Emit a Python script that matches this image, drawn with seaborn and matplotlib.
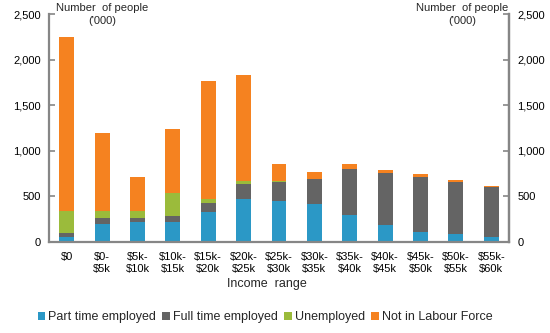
import numpy as np
import pandas as pd
import matplotlib
matplotlib.use("Agg")
import matplotlib.pyplot as plt
import seaborn as sns
from matplotlib.ticker import FuncFormatter, MultipleLocator, FixedLocator
from matplotlib.patches import Patch

categories = ["$0", "$0-\n$5k", "$5k-\n$10k", "$10k-\n$15k", "$15k-\n$20k", "$20k-\n$25k",
              "$25k-\n$30k", "$30k-\n$35k", "$35k-\n$40k", "$40k-\n$45k", "$45k-\n$50k",
              "$50k-\n$55k", "$55k-\n$60k"]
part_time = [55, 198, 220, 220, 329, 468, 450, 417, 296, 183, 110, 88, 55]
full_time = [44, 66, 44, 65, 99, 169, 209, 271, 502, 571, 600, 571, 549]
unemployed = [238, 73, 73, 253, 44, 29, 5, 0, 0, 0, 0, 0, 0]
not_in_lf = [1910, 856, 373, 703, 1296, 1164, 192, 77, 58, 37, 37, 18, 11]

series_names = ["Part time employed", "Full time employed", "Unemployed", "Not in Labour Force"]
colors = ["#2B98C6", "#646464", "#9BBB3B", "#F58220"]

sns.set_theme(style="white")
plt.rcParams["font.family"] = ["Liberation Sans", "DejaVu Sans"]

df = pd.DataFrame({"cat": categories,
                   series_names[0]: part_time,
                   series_names[1]: full_time,
                   series_names[2]: unemployed,
                   series_names[3]: not_in_lf})
cum = df[series_names].cumsum(axis=1)

fig = plt.figure(figsize=(5.5, 3.33), dpi=100)
ax = fig.add_axes([49 / 550, 91 / 333, 460 / 550, 228 / 333])

# stacked bars: draw cumulative totals from the top segment down
for name, col in reversed(list(zip(series_names, colors))):
    sns.barplot(x=df["cat"], y=cum[name], color=col, width=0.42,
                saturation=1, ax=ax, linewidth=0)

ax.set_xlim(-0.5, len(categories) - 0.5)
ax.set_ylim(0, 2500)
ax.set_xlabel("")
ax.set_ylabel("")

spine_col = "#868686"
ax.spines["top"].set_visible(False)
for s in ["left", "right", "bottom"]:
    ax.spines[s].set_color(spine_col)
    ax.spines[s].set_linewidth(1.6)

fmt = FuncFormatter(lambda v, p: f"{int(v):,}")
ax.yaxis.set_major_locator(MultipleLocator(500))
ax.yaxis.set_major_formatter(fmt)
ax.tick_params(axis="y", direction="in", length=4, width=1.2, color=spine_col,
               labelsize=8, labelcolor="black", pad=6)

ax.xaxis.set_major_locator(FixedLocator(range(len(categories))))
ax.set_xticklabels(categories, fontsize=8, linespacing=1.3)
ax.tick_params(axis="x", which="major", length=0, pad=7, labelcolor="black")
ax.xaxis.set_minor_locator(FixedLocator(np.arange(0.5, len(categories) - 1, 1.0)))
ax.tick_params(axis="x", which="minor", direction="in", length=4, width=1.2, color=spine_col)

ax2 = ax.twinx()
ax2.set_ylim(0, 2500)
ax2.yaxis.set_major_locator(MultipleLocator(500))
ax2.yaxis.set_major_formatter(fmt)
for s in ["top", "left", "bottom"]:
    ax2.spines[s].set_visible(False)
ax2.spines["right"].set_color(spine_col)
ax2.spines["right"].set_linewidth(1.6)
ax2.tick_params(axis="y", direction="in", length=4, width=1.2, color=spine_col,
                labelsize=8, labelcolor="black", pad=6)

fig.text(102 / 550, 1 - 3 / 333, "Number  of people\n('000)", ha="center", va="top",
         fontsize=8, linespacing=1.35)
fig.text(462 / 550, 1 - 3 / 333, "Number  of people\n('000)", ha="center", va="top",
         fontsize=8, linespacing=1.35)
fig.text(267 / 550, 1 - 284 / 333, "Income  range", ha="center", va="center", fontsize=9)

handles = [Patch(facecolor=c, edgecolor="none") for c in colors]
fig.legend(handles, series_names, loc="center", bbox_to_anchor=(265 / 550, 1 - 317 / 333),
           ncol=4, frameon=False, fontsize=9, handlelength=0.6, handleheight=0.6,
           handletextpad=0.25, columnspacing=0.5, borderpad=0)

fig.savefig("out.png", dpi=100)
